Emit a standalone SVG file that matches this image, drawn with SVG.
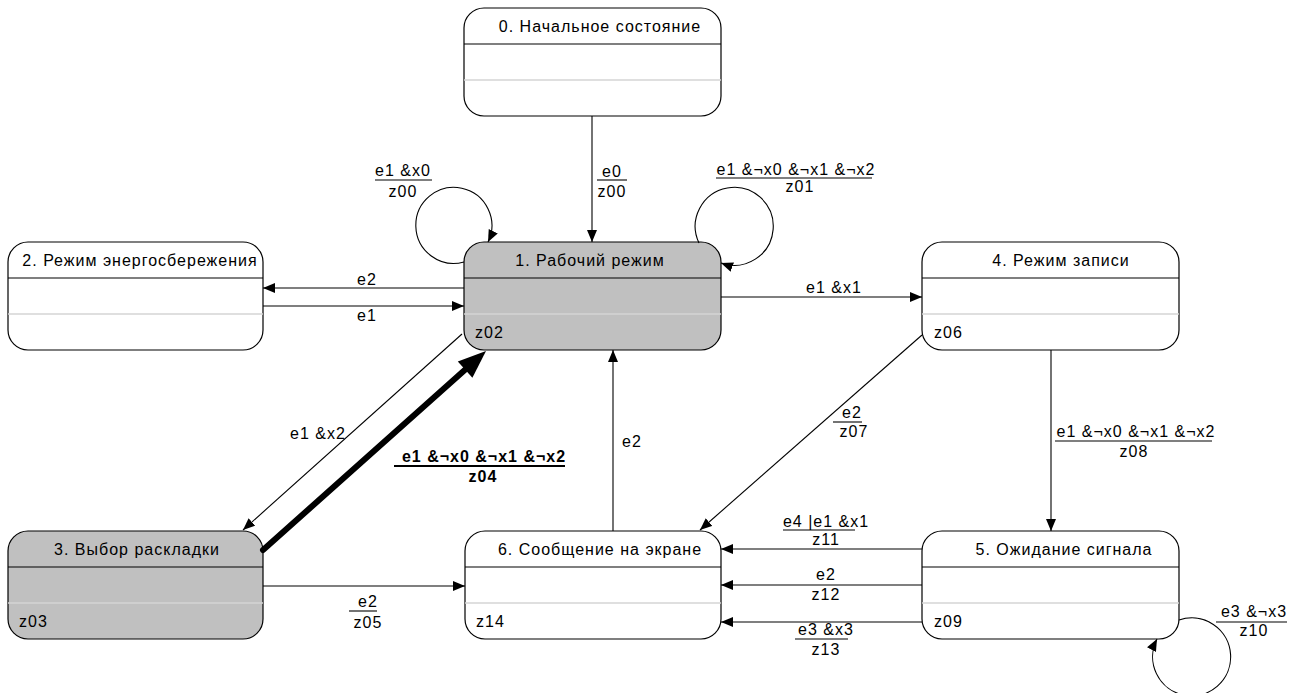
<svg xmlns="http://www.w3.org/2000/svg" width="1296" height="693" viewBox="0 0 1296 693">
<style>
text{font-family:"Liberation Sans",Arial,sans-serif;font-size:16px;fill:#000;letter-spacing:1px}
.t{text-anchor:middle}
.b{font-weight:bold}
.box{fill:#fff;stroke:#000;stroke-width:1.2}
.gray{fill:#c0c0c0}
.d1{stroke:#000;stroke-width:1.2}
.d2{stroke:#d4d4d4;stroke-width:1.5}
.c{fill:none;stroke:#000;stroke-width:1.1}
.bar{stroke:#000;stroke-width:1.1}
</style>
<defs>
<marker id="a" markerUnits="userSpaceOnUse" markerWidth="12" markerHeight="10" refX="12" refY="5" orient="auto"><path d="M0,0 L12,5 L0,10 z" fill="#000"/></marker>
</defs>
<rect width="1296" height="693" fill="#fff"/>

<g id="node0">
<rect class="box" x="464" y="8" width="257" height="108" rx="20"/>
<line class="d1" x1="464" y1="44" x2="721" y2="44"/>
<line class="d2" x1="464" y1="80" x2="721" y2="80"/>
<text class="t" x="600" y="32">0. Начальное состояние</text>
</g>
<g id="node1">
<rect class="box gray" x="464" y="242" width="257" height="108" rx="20"/>
<line class="d1" x1="464" y1="278" x2="721" y2="278"/>
<line class="d2" x1="464" y1="314" x2="721" y2="314"/>
<text class="t" x="590" y="266">1. Рабочий режим</text>
<text x="475" y="338">z02</text>
</g>
<g id="node2">
<rect class="box" x="8" y="242" width="255" height="108" rx="20"/>
<line class="d1" x1="8" y1="278" x2="263" y2="278"/>
<line class="d2" x1="8" y1="314" x2="263" y2="314"/>
<text class="t" x="140" y="266">2. Режим энергосбережения</text>
</g>
<g id="node3">
<rect class="box gray" x="8" y="531" width="255" height="108" rx="20"/>
<line class="d1" x1="8" y1="567" x2="263" y2="567"/>
<line class="d2" x1="8" y1="603" x2="263" y2="603"/>
<text class="t" x="137" y="555">3. Выбор раскладки</text>
<text x="19" y="627">z03</text>
</g>
<g id="node4">
<rect class="box" x="922" y="242" width="257" height="108" rx="20"/>
<line class="d1" x1="922" y1="278" x2="1179" y2="278"/>
<line class="d2" x1="922" y1="314" x2="1179" y2="314"/>
<text class="t" x="1061" y="266">4. Режим записи</text>
<text x="934" y="338">z06</text>
</g>
<g id="node5">
<rect class="box" x="922" y="531" width="257" height="108" rx="20"/>
<line class="d1" x1="922" y1="567" x2="1179" y2="567"/>
<line class="d2" x1="922" y1="603" x2="1179" y2="603"/>
<text class="t" x="1064" y="555">5. Ожидание сигнала</text>
<text x="934" y="627">z09</text>
</g>
<g id="node6">
<rect class="box" x="465" y="531" width="256" height="108" rx="20"/>
<line class="d1" x1="465" y1="567" x2="721" y2="567"/>
<line class="d2" x1="465" y1="603" x2="721" y2="603"/>
<text class="t" x="600" y="555">6. Сообщение на экране</text>
<text x="476" y="627">z14</text>
</g>

<g id="connectors">
<path class="c" d="M592,116 L592,242" marker-end="url(#a)"/>
<path class="c" d="M464,262 A38,38 0 1 1 488,242" marker-end="url(#a)"/>
<path class="c" d="M699,243 A39,39 0 1 1 721,263" marker-end="url(#a)"/>
<path class="c" d="M464,288 L263,288" marker-end="url(#a)"/>
<path class="c" d="M263,306 L464,306" marker-end="url(#a)"/>
<path class="c" d="M721,297 L922,297" marker-end="url(#a)"/>
<path class="c" d="M1051,350 L1051,531" marker-end="url(#a)"/>
<path class="c" d="M922,335 L700,530" marker-end="url(#a)"/>
<path class="c" d="M462,334 L243,530" marker-end="url(#a)"/>
<path class="c" d="M613,531 L613,350" marker-end="url(#a)"/>
<path class="c" d="M263,586 L465,586" marker-end="url(#a)"/>
<path class="c" d="M922,549 L721,549" marker-end="url(#a)"/>
<path class="c" d="M922,585 L721,585" marker-end="url(#a)"/>
<path class="c" d="M922,622 L721,622" marker-end="url(#a)"/>
<path class="c" d="M1179,620 A39,39 0 1 1 1157,639" marker-end="url(#a)"/>
<line x1="263" y1="550" x2="467" y2="368" stroke="#000" stroke-width="6" stroke-linecap="round"/>
<polygon points="486,351 472.4,377.8 457.8,361.4" fill="#000"/>

<text class="t" x="403" y="176">e1 &amp;x0</text>
<line class="bar" x1="375" y1="180" x2="432" y2="180"/>
<text class="t" x="403" y="197">z00</text>

<text class="t" x="612" y="177">e0</text>
<line class="bar" x1="597" y1="180" x2="627" y2="180"/>
<text class="t" x="612" y="197">z00</text>

<text class="t" x="796" y="175">e1 &amp;¬x0 &amp;¬x1 &amp;¬x2</text>
<line class="bar" x1="716" y1="178" x2="872" y2="178"/>
<text class="t" x="800" y="192">z01</text>

<text class="t" x="367" y="285">e2</text>
<text class="t" x="367" y="321">e1</text>
<text class="t" x="834" y="293">e1 &amp;x1</text>

<text class="t" x="852" y="418">e2</text>
<line class="bar" x1="833" y1="422" x2="862" y2="422"/>
<text class="t" x="854" y="437">z07</text>

<text class="t" x="1136" y="437">e1 &amp;¬x0 &amp;¬x1 &amp;¬x2</text>
<line class="bar" x1="1055" y1="441" x2="1212" y2="441"/>
<text class="t" x="1134" y="457">z08</text>

<text class="t" x="318" y="439">e1 &amp;x2</text>

<text class="t b" x="484" y="462">e1 &amp;¬x0 &amp;¬x1 &amp;¬x2</text>
<line x1="394" y1="466" x2="565" y2="466" stroke="#000" stroke-width="2"/>
<text class="t b" x="483" y="482">z04</text>

<text class="t" x="632" y="447">e2</text>

<text class="t" x="368" y="607">e2</text>
<line class="bar" x1="349" y1="611" x2="377" y2="611"/>
<text class="t" x="368" y="628">z05</text>

<text class="t" x="826" y="527">e4 |e1 &amp;x1</text>
<line class="bar" x1="783" y1="530" x2="855" y2="530"/>
<text class="t" x="826" y="545">z11</text>

<text class="t" x="826" y="580">e2</text>
<text class="t" x="826" y="600">z12</text>

<text class="t" x="826" y="635">e3 &amp;x3</text>
<line class="bar" x1="795" y1="639" x2="848" y2="639"/>
<text class="t" x="826" y="655">z13</text>

<text class="t" x="1254" y="617">e3 &amp;¬x3</text>
<line class="bar" x1="1216" y1="622" x2="1287" y2="622"/>
<text class="t" x="1254" y="636">z10</text>
</g>
</svg>
